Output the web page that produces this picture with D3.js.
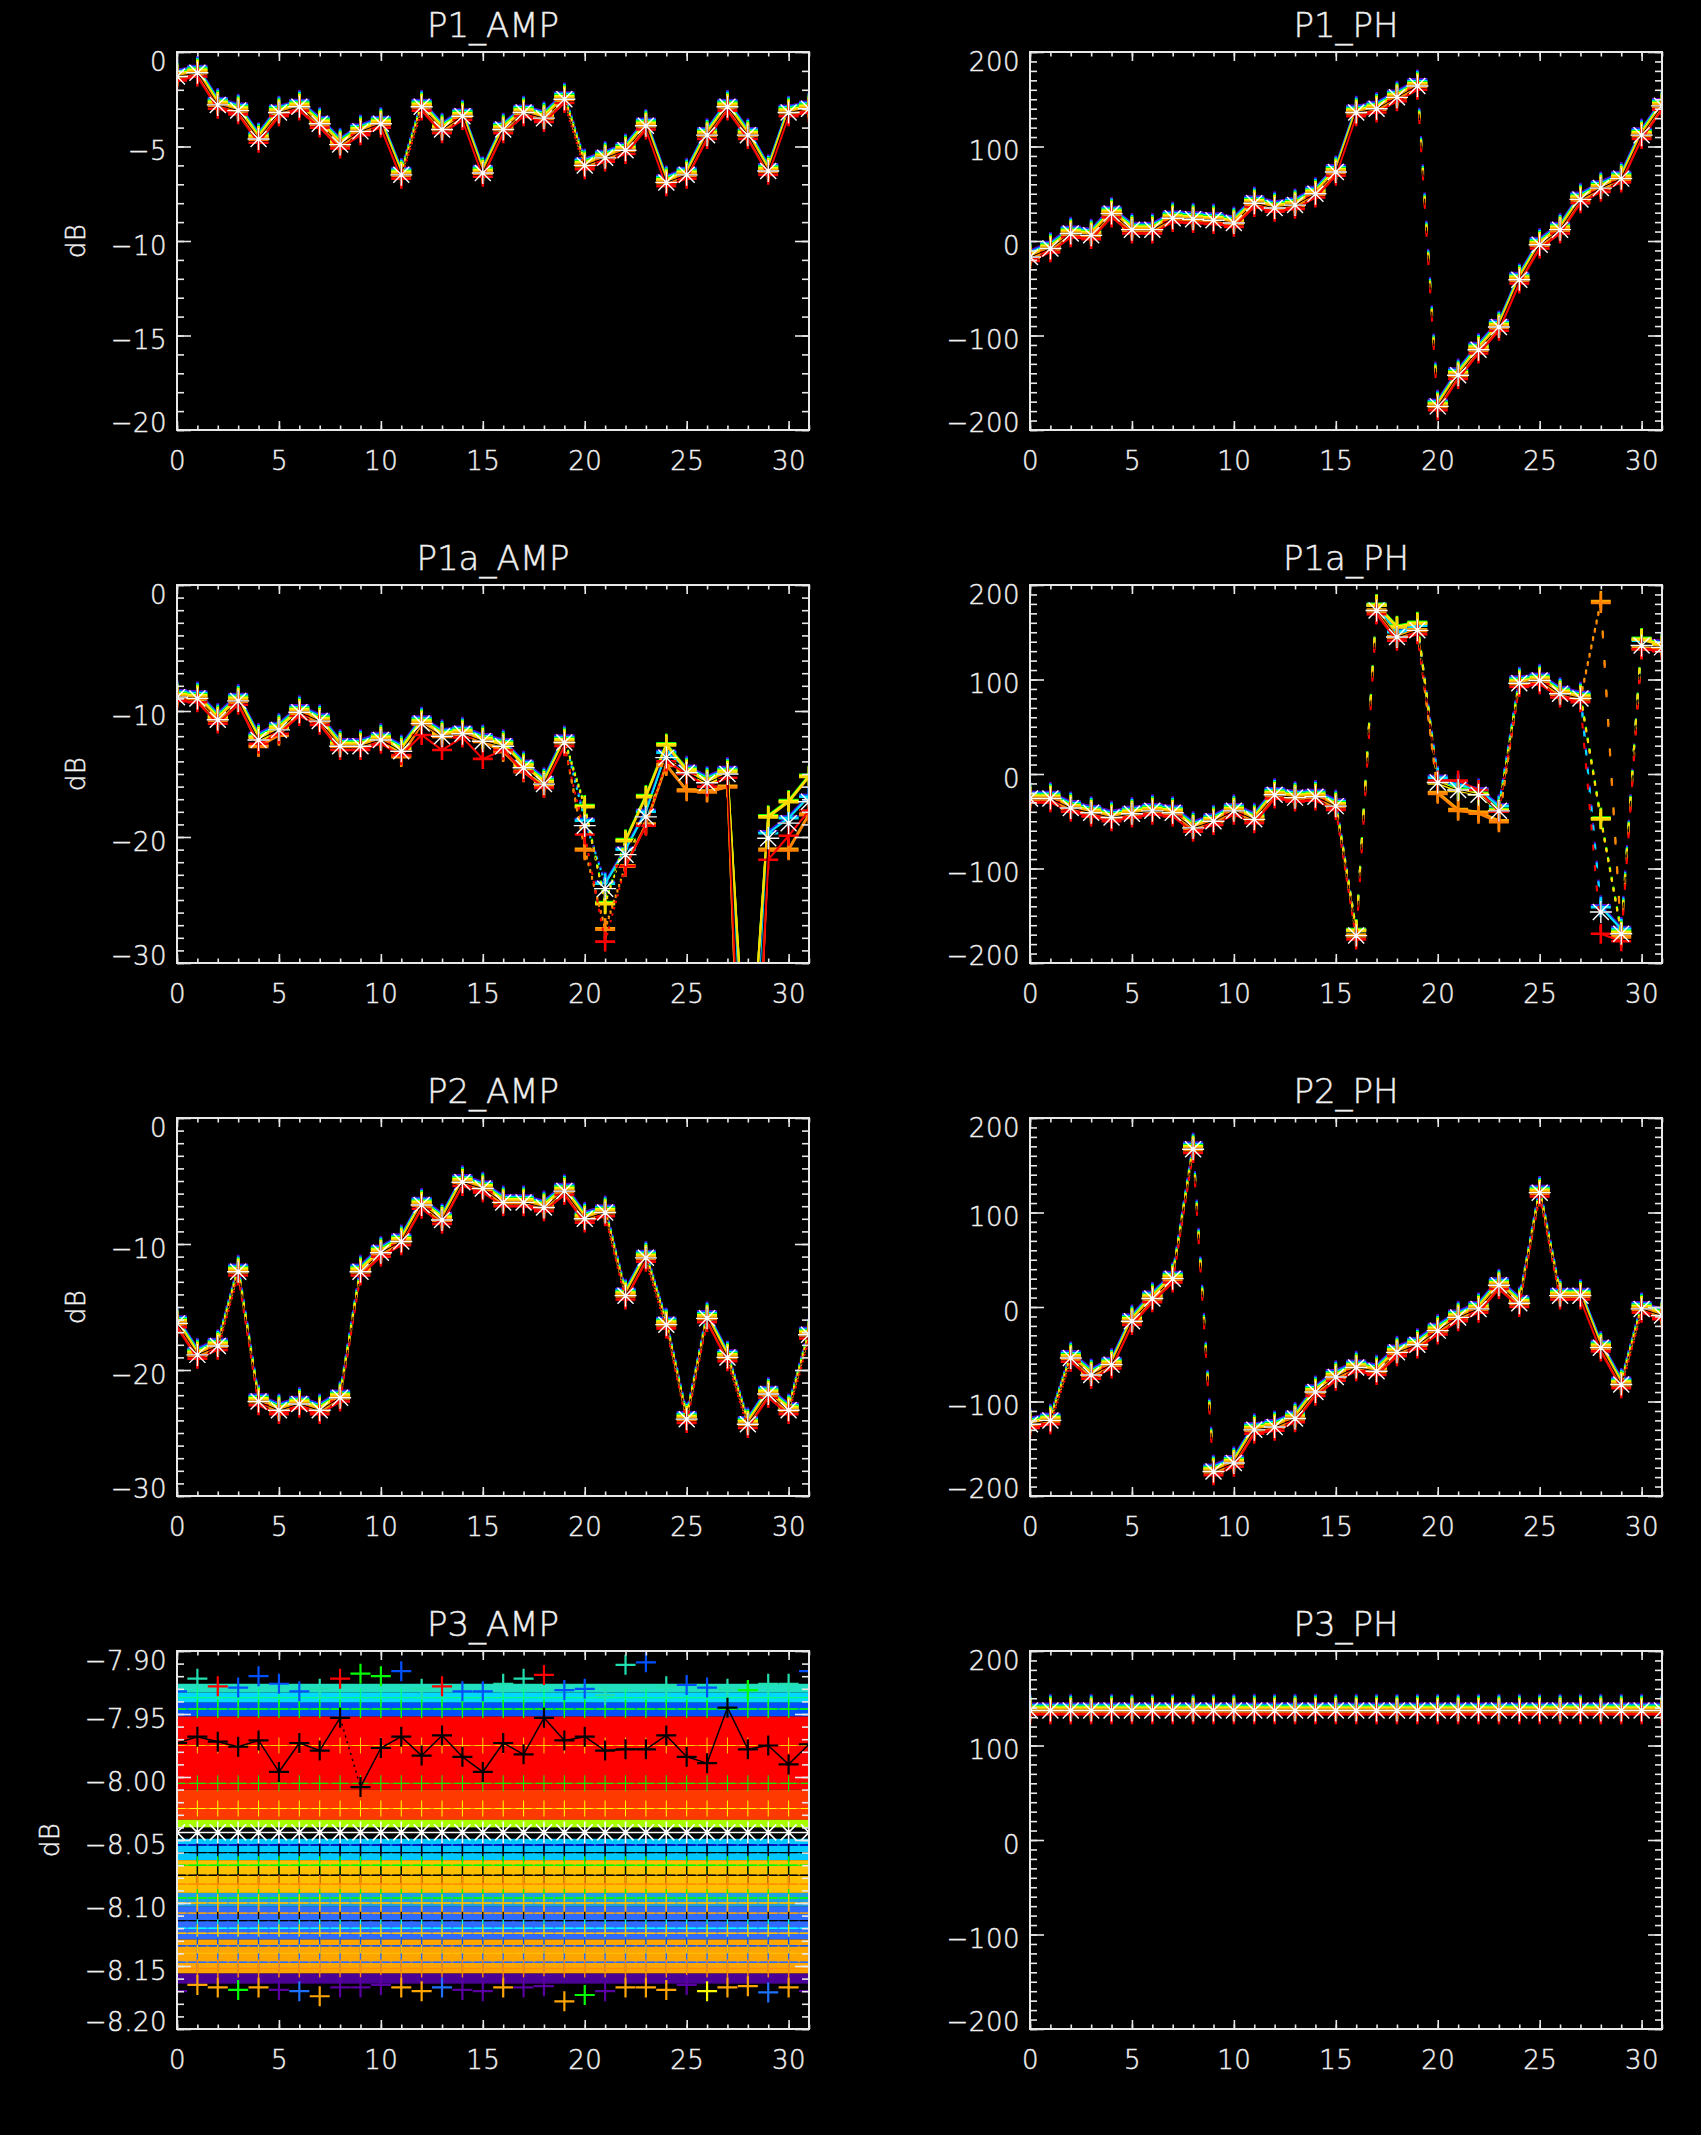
<!DOCTYPE html>
<html>
<head>
<meta charset="utf-8">
<script src="https://cdn.jsdelivr.net/npm/d3@7"></script>
<style>
  html, body { margin: 0; background: #000; }
  svg { display: block; }
  text { font-family: 'DejaVu Sans', sans-serif; font-size: 26px; font-weight: 200; fill: #f0f0f0;
         stroke: #f0f0f0; stroke-width: 0.45; letter-spacing: 0.5px; }
  text.title { font-size: 34px; letter-spacing: 0; }
</style>
</head>
<body>
<svg id="chart"></svg>
<script>
// sample index along the x axis
const channels = [0, 1, 2, 3, 4, 5, 6, 7, 8, 9, 10, 11, 12, 13, 14, 15,
  16, 17, 18, 19, 20, 21, 22, 23, 24, 25, 26, 27, 28, 29, 30, 31];
const xTickLabels = [0, 5, 10, 15, 20, 25, 30];

// reference trace of every panel (the white asterisks)
const p1Amp = [-1.3, -1.1, -2.8, -3.1, -4.6, -3.2, -2.9, -3.8, -4.9, -4.2, -3.8, -6.5, -2.9, -4.1, -3.4, -6.4,
  -4.1, -3.2, -3.5, -2.5, -6.0, -5.6, -5.2, -3.9, -6.9, -6.5, -4.4, -2.9, -4.4, -6.3, -3.2, -3.0];
const p1Ph = [-17, -8, 8, 6, 29, 12, 12, 24, 23, 22, 19, 40, 35, 38, 50, 73,
  136, 140, 152, 164, -175, -142, -115, -91, -41, -4, 12, 44, 56, 66, 112, 143];
const p1aAmp = [-8.9, -9.0, -10.7, -9.2, -12.3, -11.5, -10.1, -10.8, -12.8, -12.8, -12.3, -13.2, -11.0, -12.0, -11.8, -12.4,
  -12.8, -14.5, -15.8, -12.5, -19.1, -24.1, -21.4, -18.4, -13.7, -14.9, -15.7, -15.0, -50.0, -20.1, -18.9, -17.2];
const p1aPh = [-26, -26, -36, -41, -46, -42, -39, -41, -57, -50, -39, -48, -22, -25, -24, -34,
  -171, 173, 145, 152, -9, -17, -22, -39, 96, 99, 85, 80, -146, -169, 136, 134];
const p2Amp = [-16.3, -18.8, -18.1, -12.2, -22.5, -23.2, -22.7, -23.2, -22.2, -12.2, -10.7, -9.8, -6.9, -8.1, -5.1, -5.6,
  -6.7, -6.7, -7.1, -5.8, -8.0, -7.5, -14.1, -11.1, -16.4, -23.9, -15.9, -19.0, -24.3, -21.9, -23.2, -17.2];
const p2Ph = [-124, -120, -54, -72, -61, -15, 9, 30, 167, -174, -165, -130, -127, -118, -90, -74,
  -64, -68, -48, -40, -25, -11, -2, 23, 4, 121, 12, 12, -43, -82, -2, -9];
const p3Ph = [137, 137, 137, 137, 137, 137, 137, 137, 137, 137, 137, 137, 137, 137, 137, 137,
  137, 137, 137, 137, 137, 137, 137, 137, 137, 137, 137, 137, 137, 137, 137, 137];

// P1a traces that split away from the reference
const p1aAmpHigh = [-8.9, -9.0, -10.7, -9.2, -12.3, -11.5, -10.1, -10.8, -12.8, -12.8, -12.3, -13.2, -11.0, -12.0, -11.8, -12.4,
  -12.8, -14.5, -15.8, -12.5, -17.8, -25.5, -20.5, -17.0, -12.9, -14.9, -15.7, -15.0, -42.0, -18.6, -17.4, -15.4];
const p1aAmpLow = [-8.9, -9.0, -10.7, -9.2, -12.8, -11.9, -10.1, -10.8, -12.8, -12.8, -12.3, -13.6, -11.0, -12.0, -11.8, -12.4,
  -13.2, -14.8, -16.0, -12.5, -21.0, -27.3, -22.3, -19.0, -14.3, -16.3, -16.4, -16.0, -58.0, -21.0, -21.0, -18.2];
const p1aAmpRed = [-8.9, -9.0, -10.7, -9.2, -12.3, -11.5, -10.1, -10.8, -12.8, -12.8, -12.3, -13.2, -11.6, -12.8, -11.8, -13.5,
  -12.8, -14.5, -15.8, -12.5, -19.5, -28.0, -22.0, -18.8, -13.7, -14.7, -15.7, -15.0, -55.0, -21.5, -19.6, -17.6];
const p1aPhHigh = [-26, -26, -36, -41, -46, -42, -39, -41, -57, -50, -39, -48, -22, -25, -24, -34,
  -168, 176, 153, 157, -12, -20, -24, -41, 96, 99, 85, 80, -50, -170, 140, 134];
const p1aPhLow = [-26, -26, -36, -41, -46, -42, -39, -41, -57, -50, -39, -48, -22, -25, -24, -34,
  -171, 173, 145, 152, -20, -38, -41, -50, 96, 99, 85, 80, 182, -172, 133, 134];
const p1aPhRed = [-26, -26, -36, -41, -46, -42, -39, -41, -57, -50, -39, -48, -22, -25, -24, -34,
  -171, 173, 145, 152, -3, -3, -13, -36, 96, 99, 85, 80, -165, -173, 136, 134];

// the coloured traces sit just above / below the reference one
const stackColors = ['#7000c0', '#0040ff', '#00e0ff', '#00ff00', '#ffff00', '#ffd700', '#ffa500', '#ff7f00', '#ff0000', '#000000'];
const ampStack20 = [0.36, 0.32, 0.27, 0.22, 0.16, 0.1, 0.04, -0.04, -0.2, 0];
const ampStack30 = [0.55, 0.48, 0.4, 0.33, 0.25, 0.16, 0.06, -0.06, -0.3, 0];
const phStack = [7, 6, 5, 4, 3, 2, 1, -1, -4, 0];

// P3_AMP: black trace, reference level, outliers and colour bands
const p3AmpBlack = [-7.973, -7.968, -7.972, -7.976, -7.971, -7.996, -7.973, -7.979, -7.953, -8.008, -7.977, -7.968, -7.983, -7.967, -7.984, -7.996,
  -7.973, -7.982, -7.953, -7.971, -7.968, -7.979, -7.978, -7.978, -7.967, -7.984, -7.989, -7.945, -7.978, -7.975, -7.990, -7.974];
const p3AmpRef = [-8.044, -8.044, -8.044, -8.044, -8.044, -8.044, -8.044, -8.044, -8.044, -8.044, -8.044, -8.044, -8.044, -8.044, -8.044, -8.044,
  -8.044, -8.044, -8.044, -8.044, -8.044, -8.044, -8.044, -8.044, -8.044, -8.044, -8.044, -8.044, -8.044, -8.044, -8.044, -8.044];
const p3AmpTop = [-7.932, -7.922, -7.928, -7.929, -7.920, -7.926, -7.932, -7.930, -7.922, -7.918, -7.920, -7.916, -7.930, -7.928, -7.932, -7.932,
  -7.926, -7.922, -7.919, -7.931, -7.930, -7.935, -7.911, -7.909, -7.928, -7.927, -7.929, -7.930, -7.931, -7.926, -7.926, -7.916];
const p3AmpTopColors = ['#0050ff', '#20e0b0', '#ff0000', '#0050ff', '#0050ff', '#0050ff', '#0050ff', '#20e0b0', '#ff0000', '#00ff00', '#00ff00', '#0050ff', '#20e0b0', '#ff0000', '#0050ff', '#0050ff',
  '#20e0b0', '#20e0b0', '#ff0000', '#0050ff', '#0050ff', '#20e0b0', '#20e0b0', '#0050ff', '#20e0b0', '#0050ff', '#0050ff', '#20e0b0', '#00ff00', '#20e0b0', '#20e0b0', '#0050ff'];
const p3AmpBottom = [-8.170, -8.165, -8.167, -8.169, -8.167, -8.169, -8.170, -8.174, -8.167, -8.167, -8.165, -8.167, -8.170, -8.167, -8.169, -8.170,
  -8.167, -8.167, -8.166, -8.178, -8.173, -8.170, -8.167, -8.167, -8.169, -8.165, -8.170, -8.167, -8.166, -8.171, -8.167, -8.170];
const p3AmpBottomColors = ['#5a00a0', '#ffa500', '#ffa500', '#00ff00', '#ffa500', '#5a00a0', '#1e70ff', '#ffa500', '#5a00a0', '#5a00a0', '#5a00a0', '#ffa500', '#ffa500', '#1e70ff', '#5a00a0', '#5a00a0',
  '#ffa500', '#5a00a0', '#5a00a0', '#ffa500', '#00ff00', '#5a00a0', '#ffa500', '#ffa500', '#ffa500', '#5a00a0', '#ffff00', '#ffa500', '#ffa500', '#1e70ff', '#ffa500', '#5a00a0'];
const p3BandColors = ['#20e0c0', '#00d8ff', '#0050ff', '#ff0000', '#ff3a00', '#a8ff00', '#00c8ff', '#ffc000', '#20a0e0', '#2f6bff', '#ffa500', '#4b0096'];
const p3BandHi = [-7.926, -7.933, -7.941, -7.952, -8.010, -8.034, -8.049, -8.066, -8.092, -8.103, -8.129, -8.156];
const p3BandLo = [-7.933, -7.941, -7.952, -8.010, -8.034, -8.040, -8.066, -8.092, -8.103, -8.129, -8.156, -8.164];
const p3SpeckleLevels = [-7.937, -7.946, -7.975, -8.005, -8.025, -8.054, -8.060, -8.070, -8.078, -8.085, -8.096,
  -8.100, -8.108, -8.114, -8.120, -8.124, -8.134, -8.140, -8.147, -8.152];
const p3SpeckleColors = ['#00ff80', '#00ff00', '#ffd000', '#00ff00', '#ffff00', '#0000c0', '#000000', '#00ff00', '#000000', '#ff8c00', '#00ff00',
  '#ffc000', '#ffa500', '#000000', '#00ffff', '#ffc000', '#0050ff', '#ffc000', '#2a6bff', '#ff8c00'];

const W = 1701;
const H = 2135;
const colLeft = [177, 1030];
const rowTop = [52, 585, 1118, 1651];
const PW = 632;
const PH = 378;
const FG = '#e8e8e8';

const svg = d3.select('#chart').attr('width', W).attr('height', H);
svg.append('rect').attr('width', W).attr('height', H).attr('fill', '#000');

const fmtInt = d3.format('d');

const panels = [
  { title: 'P1_AMP', col: 0, row: 0, domain: [-20, 0], major: 5, minor: 1, fmt: fmtInt, ytitle: 'dB',
    main: p1Amp, stack: ampStack20 },
  { title: 'P1_PH', col: 1, row: 0, domain: [-200, 200], major: 100, minor: 10, fmt: fmtInt,
    main: p1Ph, stack: phStack },
  { title: 'P1a_AMP', col: 0, row: 1, domain: [-30, 0], major: 10, minor: 1, fmt: fmtInt, ytitle: 'dB',
    main: p1aAmp, stack: ampStack30,
    bases: [p1aAmp, p1aAmp, p1aAmp, p1aAmpHigh, p1aAmpHigh, p1aAmpHigh, p1aAmpLow, p1aAmpLow, p1aAmpRed, p1aAmp] },
  { title: 'P1a_PH', col: 1, row: 1, domain: [-200, 200], major: 100, minor: 10, fmt: fmtInt,
    main: p1aPh, stack: phStack,
    bases: [p1aPh, p1aPh, p1aPh, p1aPhHigh, p1aPhHigh, p1aPhHigh, p1aPhLow, p1aPhLow, p1aPhRed, p1aPh] },
  { title: 'P2_AMP', col: 0, row: 2, domain: [-30, 0], major: 10, minor: 1, fmt: fmtInt, ytitle: 'dB',
    main: p2Amp, stack: ampStack30 },
  { title: 'P2_PH', col: 1, row: 2, domain: [-200, 200], major: 100, minor: 10, fmt: fmtInt,
    main: p2Ph, stack: phStack },
  { title: 'P3_AMP', col: 0, row: 3, domain: [-8.2, -7.9], major: 0.05, minor: 0.01, fmt: d3.format('.2f'), ytitle: 'dB',
    cloud: true },
  { title: 'P3_PH', col: 1, row: 3, domain: [-200, 200], major: 100, minor: 10, fmt: fmtInt,
    main: p3Ph, stack: phStack },
];

function stepTicks([lo, hi], step) {
  const n = Math.round((hi - lo) / step);
  return d3.range(n + 1).map(i => +(lo + i * step).toFixed(6));
}

function plusPath(px, py, r) {
  return `M${px - r},${py}h${2 * r}M${px},${py - r}v${2 * r}`;
}

function starPath(px, py) {
  const d = 8;
  return plusPath(px, py, 11) + `M${px - d},${py - d}l${2 * d},${2 * d}M${px - d},${py + d}l${2 * d},${-2 * d}`;
}

// one trace: segments (steep ones come out broken, as in the picture) and markers
function drawTrace(g, x, y, values, color, opts = {}) {
  const pts = values.map((v, i) => [x(channels[i]), y(v)]);
  if (!opts.noLine) {
    g.append('g')
      .selectAll('line')
      .data(d3.pairs(pts))
      .join('line')
      .attr('x1', d => d[0][0])
      .attr('y1', d => d[0][1])
      .attr('x2', d => d[1][0])
      .attr('y2', d => d[1][1])
      .attr('stroke', color)
      .attr('stroke-width', opts.lineWidth || 2.1)
      .attr('stroke-dasharray', d => {
        const slope = Math.abs(d[1][1] - d[0][1]) / Math.abs(d[1][0] - d[0][0]);
        const leaves = [d[0][1], d[1][1]].some(v => v < 0 || v > PH);
        if (slope <= 3 || leaves) return null;
        const period = 1.8 * slope;
        const dash = Math.min(6, period * 0.35);
        return `${dash} ${period - dash}`;
      });
  }
  g.append('path')
    .attr('d', pts.map(([px, py]) => (opts.star ? starPath(px, py) : plusPath(px, py, opts.size || 10))).join(''))
    .attr('fill', 'none')
    .attr('stroke', color)
    .attr('stroke-width', opts.markWidth || 2.6);
}

function drawCloud(g, x, y) {
  const x0 = x(0);
  const x1 = x(31);
  g.append('g')
    .selectAll('rect')
    .data(p3BandColors)
    .join('rect')
    .attr('x', x0)
    .attr('width', x1 - x0)
    .attr('y', (c, i) => y(p3BandHi[i]))
    .attr('height', (c, i) => y(p3BandLo[i]) - y(p3BandHi[i]))
    .attr('fill', c => c);

  // faint levels inside the red band, stronger ones below the reference line
  p3SpeckleLevels.forEach((lvl, i) => {
    const inRed = lvl < -7.952 && lvl > -8.034;
    drawTrace(g, x, y, channels.map(() => lvl), p3SpeckleColors[i],
      inRed ? { lineWidth: 0.6, markWidth: 1, size: 8 } : { lineWidth: 0.9, markWidth: 1.4, size: 9 });
  });

  const marks = (vals, colors) => {
    g.append('g')
      .selectAll('path')
      .data(vals)
      .join('path')
      .attr('d', (v, i) => plusPath(x(channels[i]), y(v), 10))
      .attr('fill', 'none')
      .attr('stroke', (v, i) => colors[i])
      .attr('stroke-width', 2.2);
  };
  marks(p3AmpTop, p3AmpTopColors);
  marks(p3AmpBottom, p3AmpBottomColors);

  drawTrace(g, x, y, p3AmpBlack, '#000', { lineWidth: 1.5, markWidth: 2.2 });
  drawTrace(g, x, y, p3AmpRef, '#fff', { star: true, noLine: true, markWidth: 1.6 });
}

panels.forEach((p, pi) => {
  const left = colLeft[p.col];
  const top = rowTop[p.row];
  const g = svg.append('g').attr('transform', `translate(${left},${top})`);

  const x = d3.scaleLinear().domain([0, 31]).range([0, PW]);
  const y = d3.scaleLinear().domain(p.domain).range([PH, 0]);

  const clipId = `clip-${pi}`;
  g.append('clipPath').attr('id', clipId)
    .append('rect').attr('width', PW).attr('height', PH);
  const plot = g.append('g').attr('clip-path', `url(#${clipId})`);

  if (p.cloud) {
    drawCloud(plot, x, y);
  } else {
    stackColors.forEach((c, i) => {
      const base = p.bases ? p.bases[i] : p.main;
      const vals = base.map(v => v + p.stack[i]);
      drawTrace(plot, x, y, vals, c, c === '#000000' ? { lineWidth: 1, markWidth: 1.4 } : {});
    });
    drawTrace(plot, x, y, p.main, '#fff', { star: true, noLine: true, markWidth: 1.4 });
  }

  // axes: major + minor ticks on all four sides, pointing inwards
  const majorY = stepTicks(p.domain, p.major);
  const minorY = stepTicks(p.domain, p.minor);
  const majorX = xTickLabels;
  const minorX = channels;

  const axisG = g.append('g').attr('color', FG).attr('stroke-width', 1.6);
  const addAxis = (axis, tx, ty) => {
    const a = axisG.append('g').attr('transform', `translate(${tx},${ty})`).call(axis);
    a.select('.domain').remove();
    return a;
  };

  const yAxis = addAxis(
    d3.axisLeft(y).tickValues(majorY).tickSize(-14).tickPadding(10).tickFormat(p.fmt), 0, 0);
  yAxis.selectAll('text')
    .attr('dy', null)
    .attr('y', d => {
      const py = y(d);
      const c = Math.min(Math.max(py + 4, 9), PH - 8);
      return c - py + 9;
    });
  addAxis(d3.axisLeft(y).tickValues(minorY).tickSize(-7).tickFormat(''), 0, 0);
  addAxis(d3.axisRight(y).tickValues(majorY).tickSize(-14).tickFormat(''), PW, 0);
  addAxis(d3.axisRight(y).tickValues(minorY).tickSize(-7).tickFormat(''), PW, 0);

  const xAxis = addAxis(
    d3.axisBottom(x).tickValues(majorX).tickSize(-9).tickPadding(22).tickFormat(fmtInt), 0, PH);
  xAxis.selectAll('text').attr('dy', '0.71em');
  addAxis(d3.axisBottom(x).tickValues(minorX).tickSize(-4.5).tickFormat(''), 0, PH);
  addAxis(d3.axisTop(x).tickValues(majorX).tickSize(-9).tickFormat(''), 0, 0);
  addAxis(d3.axisTop(x).tickValues(minorX).tickSize(-4.5).tickFormat(''), 0, 0);

  axisG.selectAll('text').attr('fill', null).attr('font-size', null);
  axisG.attr('font-size', null).attr('font-family', null);

  g.append('rect')
    .attr('width', PW)
    .attr('height', PH)
    .attr('fill', 'none')
    .attr('stroke', FG)
    .attr('stroke-width', 2);

  g.append('text')
    .attr('class', 'title')
    .attr('x', PW / 2)
    .attr('y', -15)
    .attr('text-anchor', 'middle')
    .text(p.title);

  if (p.ytitle) {
    const bb = yAxis.node().getBBox();
    const cx = bb.x - 35;
    g.append('text')
      .attr('transform', `translate(${cx},${PH / 2}) rotate(-90)`)
      .attr('text-anchor', 'middle')
      .attr('dy', '0.36em')
      .text(p.ytitle);
  }
});
</script>
</body>
</html>
